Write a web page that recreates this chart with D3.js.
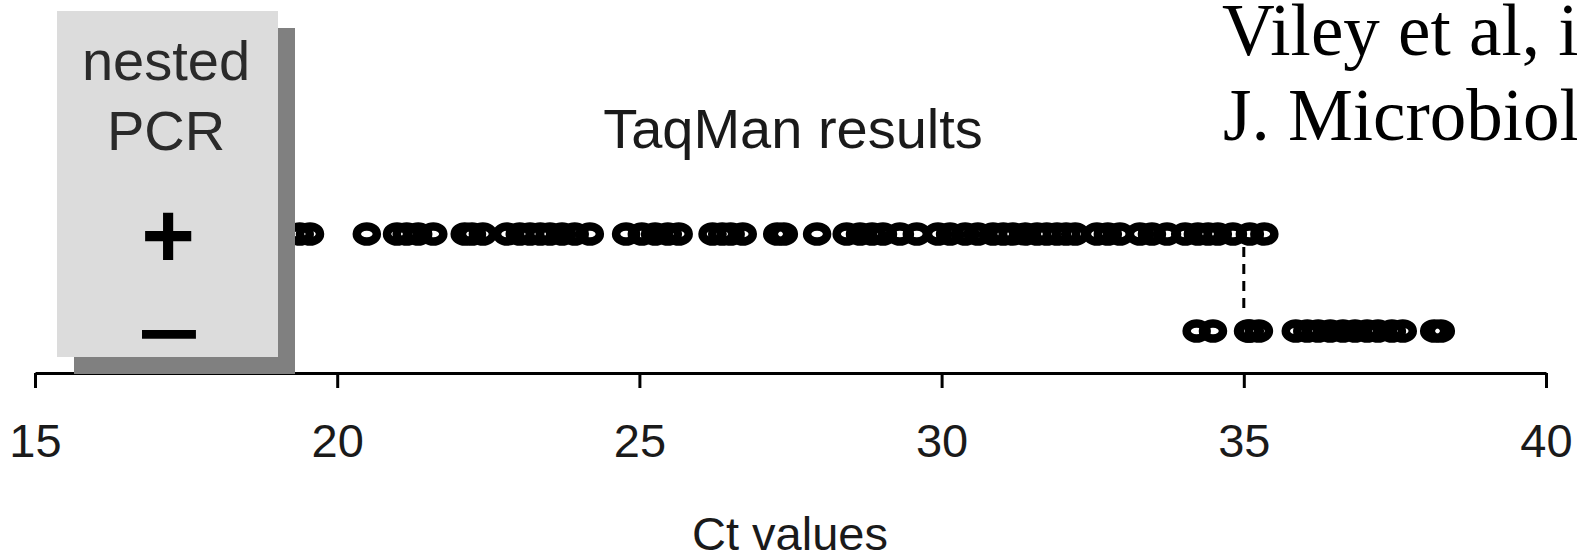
<!DOCTYPE html>
<meta charset="utf-8">
<style>
  body { margin: 0; background: #fff; }
  svg { display: block; }
  text { font-family: "Liberation Sans", Arial, sans-serif; }
</style>
<svg width="1577" height="553"></svg>
<script src="https://d3js.org/d3.v7.min.js"></script>
<script>

// Ct values, one array per nested PCR result
var positive = [19.38, 19.55, 20.49, 20.99, 21.15, 21.34, 21.59, 22.11, 22.23, 22.41,
  22.81, 23.02, 23.19, 23.36, 23.52, 23.72, 23.93, 24.18,
  24.78, 25.04, 25.26, 25.47, 25.65,
  26.21, 26.37, 26.51, 26.71,
  27.28, 27.39, 27.94,
  28.43, 28.65, 28.85, 29.03, 29.31, 29.59, 29.94, 30.14, 30.39, 30.60, 30.85,
  31.02, 31.18, 31.38, 31.58, 31.74, 31.91, 32.06, 32.21, 32.57, 32.75, 32.95,
  33.28, 33.48, 33.73, 34.03, 34.24, 34.41, 34.57, 34.82, 35.10, 35.34];
var negative = [34.22, 34.49, 35.07, 35.10, 35.25,
  35.86, 36.05, 36.23, 36.43, 36.64, 36.84, 37.04, 37.22, 37.45, 37.63,
  38.15, 38.26];

var tickValues = [15, 20, 25, 30, 35, 40];
var cutoff = 35;

var svg = d3.select("svg");

var x = d3.scaleLinear().domain([15, 40]).range([35, 1546]);
var rowY = {"+": 234, "-": 331};

// axis
var axis = svg.append("g")
    .attr("transform", "translate(0,373)")
    .call(d3.axisBottom(x).tickValues(tickValues).tickSize(15).tickSizeOuter(0).tickPadding(0));
axis.select(".domain").attr("stroke", "#000").attr("stroke-width", 3);
axis.selectAll(".tick line").attr("stroke", "#000").attr("stroke-width", 3);
axis.selectAll(".tick text")
    .attr("y", 84).attr("dy", 0)
    .attr("font-size", 47)
    .attr("font-family", "Liberation Sans, Arial, sans-serif")
    .attr("fill", "#1a1a1a");

// points
function row(values, key) {
  svg.append("g").selectAll("ellipse")
    .data(values)
    .enter().append("ellipse")
      .attr("cx", function(d) { return x(d); })
      .attr("cy", rowY[key])
      .attr("rx", 10)
      .attr("ry", 7.6)
      .attr("fill", "none")
      .attr("stroke", "#000")
      .attr("stroke-width", 8.5);
}
row(positive, "+");
row(negative, "-");

// dashed cutoff line
svg.append("line")
    .attr("x1", x(cutoff)).attr("x2", x(cutoff))
    .attr("y1", 247).attr("y2", 312)
    .attr("stroke", "#000")
    .attr("stroke-width", 3)
    .attr("stroke-dasharray", "10,7");

// nested PCR box with shadow
svg.append("rect").attr("x", 74).attr("y", 28).attr("width", 221).attr("height", 346).attr("fill", "#808080");
svg.append("rect").attr("x", 57).attr("y", 11).attr("width", 221).attr("height", 346).attr("fill", "#dcdcdc");

svg.append("text").attr("x", 166).attr("y", 80).attr("text-anchor", "middle")
    .attr("font-size", 56).attr("fill", "#2a2a2a").text("nested");
svg.append("text").attr("x", 166).attr("y", 150).attr("text-anchor", "middle")
    .attr("font-size", 56).attr("fill", "#2a2a2a").text("PCR");

// + and – signs
svg.append("text").attr("x", 168).attr("y", 267).attr("text-anchor", "middle")
    .attr("font-size", 92).attr("font-weight", "bold").attr("fill", "#000").text("+");
svg.append("text").attr("x", 140).attr("y", 354)
    .attr("font-size", 72).attr("font-weight", "bold")
    .attr("textLength", 58).attr("lengthAdjust", "spacingAndGlyphs")
    .attr("fill", "#000").attr("stroke", "#000").attr("stroke-width", 1.6)
    .text("–");

// titles
svg.append("text").attr("x", 793).attr("y", 148).attr("text-anchor", "middle")
    .attr("font-size", 56).attr("fill", "#1a1a1a").text("TaqMan results");
svg.append("text").attr("x", 790).attr("y", 550).attr("text-anchor", "middle")
    .attr("font-size", 47).attr("fill", "#1a1a1a").text("Ct values");

svg.append("text").attr("x", 1222).attr("y", 55)
    .style("font-family", "Liberation Serif, Times New Roman, serif")
    .attr("font-size", 73).attr("fill", "#000").text("Viley et al, in");
svg.append("text").attr("x", 1223).attr("y", 140)
    .style("font-family", "Liberation Serif, Times New Roman, serif")
    .attr("font-size", 73).attr("fill", "#000").text("J. Microbiol.");

</script>
